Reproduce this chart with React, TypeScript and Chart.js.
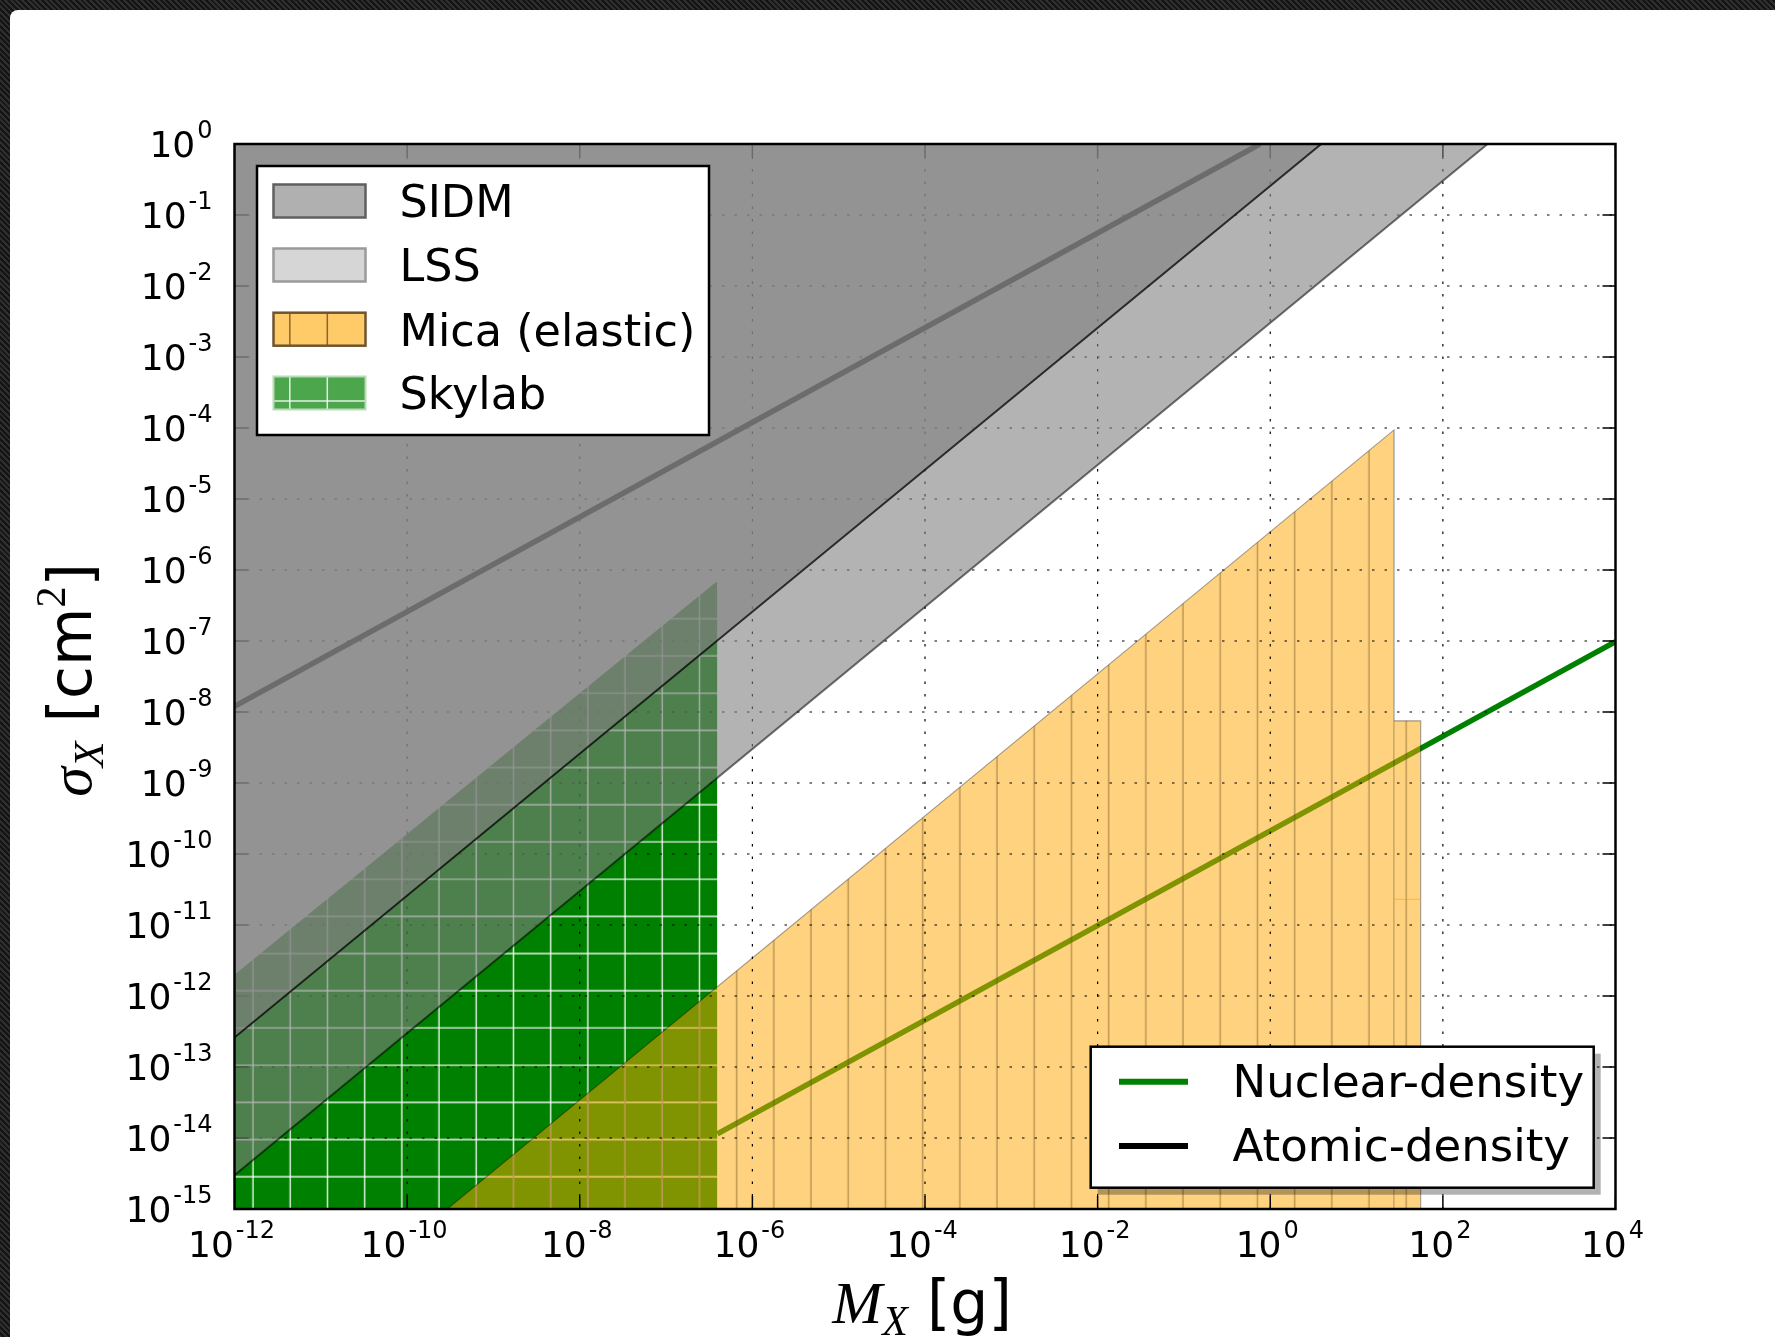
import React, { useEffect, useRef } from 'react';
import { Chart, registerables } from 'chart.js';

Chart.register(...registerables);

// ---------- data (log-log: M_X [g] vs sigma_X [cm^2]) ----------
const X_MIN = 1e-12;
const X_MAX = 1e4;
const Y_MIN = 1e-15;
const Y_MAX = 1;
const X_TICK_EXPONENTS = [-12, -10, -8, -6, -4, -2, 0, 2, 4];
const Y_TICK_EXPONENTS = [0, -1, -2, -3, -4, -5, -6, -7, -8, -9, -10, -11, -12, -13, -14, -15];

const sidmEdge = [
  { x: 1e-12, y: 2.6e-13 },
  { x: 3.9, y: 1 },
];
const lssEdge = [
  { x: 1e-12, y: 3.0e-15 },
  { x: 330, y: 1 },
];
const skylabEdge = [
  { x: 1e-12, y: 2.0e-12 },
  { x: 3.93e-7, y: 7.0e-7 },
];
const micaElastic = [
  { x: 2.92e-10, y: 1e-15 },
  { x: 27.2, y: 9.4e-5 },
  { x: 27.2, y: 1e-15 },
];
const micaStep = [
  { x: 27.2, y: 7.5e-9 },
  { x: 55.3, y: 7.5e-9 },
  { x: 55.3, y: 1e-15 },
];
const micaInner = [
  { x: 27.2, y: 2.3e-11 },
  { x: 55.3, y: 2.3e-11 },
];
const atomicDensity = [
  { x: 1e-12, y: 1.2e-8 },
  { x: 0.76, y: 1 },
];
const nuclearDensity = [
  { x: 3.93e-7, y: 1.14e-14 },
  { x: 1e4, y: 9.8e-8 },
];

const LEGEND_REGIONS = ['SIDM', 'LSS', 'Mica (elastic)', 'Skylab'];
const LEGEND_LINES = ['Nuclear-density', 'Atomic-density'];

// ---------- helpers ----------
const HATCH = 37.2;

function makeSkylabPattern(ctx: CanvasRenderingContext2D): CanvasPattern | string {
  const c = document.createElement('canvas');
  const T = Math.round(HATCH * 10);
  c.width = T;
  c.height = T;
  const g = c.getContext('2d')!;
  g.fillStyle = '#008000';
  g.fillRect(0, 0, T, T);
  g.strokeStyle = 'rgba(255,255,255,0.92)';
  g.lineWidth = 1.4;
  for (let k = -1; k <= 11; k++) {
    const p = k * HATCH;
    g.beginPath();
    g.moveTo(p, 0);
    g.lineTo(p, T);
    g.stroke();
    g.beginPath();
    g.moveTo(0, p);
    g.lineTo(T, p);
    g.stroke();
  }
  const pat = ctx.createPattern(c, 'repeat');
  if (!pat) return '#008000';
  pat.setTransform(new DOMMatrix().translate(29.8, 23.5));
  return pat;
}

function makeMicaPattern(ctx: CanvasRenderingContext2D): CanvasPattern | string {
  const c = document.createElement('canvas');
  const T = Math.round(HATCH * 10);
  c.width = T;
  c.height = 8;
  const g = c.getContext('2d')!;
  g.fillStyle = 'rgba(255,165,0,0.5)';
  g.fillRect(0, 0, T, 8);
  g.strokeStyle = 'rgba(110,80,30,0.45)';
  g.lineWidth = 1.5;
  for (let k = -1; k <= 11; k++) {
    const p = k * HATCH;
    g.beginPath();
    g.moveTo(p, 0);
    g.lineTo(p, 8);
    g.stroke();
  }
  const pat = ctx.createPattern(c, 'repeat');
  if (!pat) return 'rgba(255,165,0,0.5)';
  pat.setTransform(new DOMMatrix().translate(29.8, 0));
  return pat;
}

const SANS = '"DejaVu Sans", "Noto Sans", sans-serif';
const SERIF = '"Liberation Serif", "DejaVu Serif", serif';
const EXP_PX = 24;

function drawPower(ctx: CanvasRenderingContext2D, exp: number, x: number, baseline: number, align: 'right' | 'center') {
  const es = exp < 0 ? '-' + String(-exp) : String(exp);
  ctx.font = `36px ${SANS}`;
  const wb = ctx.measureText('10').width;
  ctx.font = `${EXP_PX}px ${SANS}`;
  const we = ctx.measureText(es).width;
  const gap = 2;
  const total = wb + gap + we;
  const sx = align === 'right' ? x - total : x - total / 2 - 3;
  ctx.textAlign = 'left';
  ctx.textBaseline = 'alphabetic';
  ctx.fillStyle = '#000';
  ctx.font = `36px ${SANS}`;
  ctx.fillText('10', sx, baseline);
  ctx.font = `${EXP_PX}px ${SANS}`;
  ctx.fillText(es, sx + wb + gap, baseline - 19);
}

type Part = { t: string; f: string; dy: number };
function drawParts(ctx: CanvasRenderingContext2D, parts: Part[], cx: number, baseline: number) {
  let total = 0;
  for (const p of parts) {
    ctx.font = p.f;
    total += ctx.measureText(p.t).width;
  }
  let x = cx - total / 2;
  ctx.textAlign = 'left';
  ctx.textBaseline = 'alphabetic';
  ctx.fillStyle = '#000';
  for (const p of parts) {
    ctx.font = p.f;
    ctx.fillText(p.t, x, baseline + p.dy);
    x += ctx.measureText(p.t).width;
  }
}

function drawGridAndTicks(chart: any) {
  const ctx: CanvasRenderingContext2D = chart.ctx;
  const { left, right, top, bottom } = chart.chartArea;
  const xs = chart.scales.x;
  const ys = chart.scales.y;
  ctx.save();
  ctx.beginPath();
  ctx.rect(left, top, right - left, bottom - top);
  ctx.clip();
  ctx.strokeStyle = '#000';
  ctx.lineWidth = 1.2;
  ctx.setLineDash([2.5, 10]);
  for (const e of X_TICK_EXPONENTS) {
    const px = xs.getPixelForValue(Math.pow(10, e));
    ctx.beginPath();
    ctx.moveTo(px, bottom);
    ctx.lineTo(px, top);
    ctx.stroke();
  }
  for (const e of Y_TICK_EXPONENTS) {
    const py = ys.getPixelForValue(Math.pow(10, e));
    ctx.beginPath();
    ctx.moveTo(left, py);
    ctx.lineTo(right, py);
    ctx.stroke();
  }
  ctx.setLineDash([]);
  ctx.lineWidth = 1.5;
  const L = 13;
  for (const e of X_TICK_EXPONENTS) {
    const px = xs.getPixelForValue(Math.pow(10, e));
    ctx.beginPath();
    ctx.moveTo(px, bottom);
    ctx.lineTo(px, bottom - L);
    ctx.moveTo(px, top);
    ctx.lineTo(px, top + L);
    ctx.stroke();
  }
  for (const e of Y_TICK_EXPONENTS) {
    const py = ys.getPixelForValue(Math.pow(10, e));
    ctx.beginPath();
    ctx.moveTo(left, py);
    ctx.lineTo(left + L, py);
    ctx.moveTo(right, py);
    ctx.lineTo(right - L, py);
    ctx.stroke();
  }
  ctx.restore();
}

function drawOverlay(chart: any) {
  const ctx: CanvasRenderingContext2D = chart.ctx;
  const { left, right, top, bottom } = chart.chartArea;
  const xs = chart.scales.x;
  const ys = chart.scales.y;
  ctx.save();

  // frame
  ctx.strokeStyle = '#000';
  ctx.lineWidth = 2.5;
  ctx.strokeRect(left, top, right - left, bottom - top);

  // tick labels
  for (const e of Y_TICK_EXPONENTS) {
    const py = ys.getPixelForValue(Math.pow(10, e));
    drawPower(ctx, e, left - 22, py + 13, 'right');
  }
  for (const e of X_TICK_EXPONENTS) {
    const px = xs.getPixelForValue(Math.pow(10, e));
    drawPower(ctx, e, px, bottom + 47.7, 'center');
  }

  // axis titles
  drawParts(
    ctx,
    [
      { t: 'M', f: `italic 60px ${SERIF}`, dy: 0 },
      { t: 'X', f: `italic 42px ${SERIF}`, dy: 12 },
      { t: ' [g]', f: `60px ${SANS}`, dy: 0 },
    ],
    (left + right) / 2 - 3,
    1323
  );
  ctx.save();
  ctx.translate(91, 680);
  ctx.rotate(-Math.PI / 2);
  drawParts(
    ctx,
    [
      { t: 'σ', f: `italic 60px ${SERIF}`, dy: 0 },
      { t: 'X', f: `italic 42px ${SERIF}`, dy: 12 },
      { t: ' [cm', f: `60px ${SANS}`, dy: 0 },
      { t: '2', f: `42px ${SERIF}`, dy: -26 },
      { t: ']', f: `60px ${SANS}`, dy: 0 },
    ],
    0,
    0
  );
  ctx.restore();

  // upper-left legend (regions)
  ctx.fillStyle = '#fff';
  ctx.fillRect(257, 166, 452, 269);
  ctx.strokeStyle = '#000';
  ctx.lineWidth = 2.5;
  ctx.strokeRect(257, 166, 452, 269);
  const tops = [184.5, 248.5, 312.7, 376.5];
  const baselines = [216.5, 281, 345.5, 408.5];
  const px0 = 273.5;
  const pw = 92;
  const ph = 33;
  const hatchX = [289.8, 327.3];
  // SIDM
  ctx.fillStyle = '#b0b0b0';
  ctx.fillRect(px0, tops[0], pw, ph);
  ctx.strokeStyle = '#5f5f5f';
  ctx.lineWidth = 2.5;
  ctx.strokeRect(px0, tops[0], pw, ph);
  // LSS
  ctx.fillStyle = '#d6d6d6';
  ctx.fillRect(px0, tops[1], pw, ph);
  ctx.strokeStyle = '#9a9a9a';
  ctx.strokeRect(px0, tops[1], pw, ph);
  // Mica
  ctx.fillStyle = '#ffca68';
  ctx.fillRect(px0, tops[2], pw, ph);
  ctx.strokeStyle = 'rgba(90,60,20,0.7)';
  ctx.lineWidth = 1.5;
  for (const hx of hatchX) {
    ctx.beginPath();
    ctx.moveTo(hx, tops[2]);
    ctx.lineTo(hx, tops[2] + ph);
    ctx.stroke();
  }
  ctx.strokeStyle = '#6e5530';
  ctx.lineWidth = 2.5;
  ctx.strokeRect(px0, tops[2], pw, ph);
  // Skylab
  ctx.fillStyle = '#4ca64c';
  ctx.fillRect(px0, tops[3], pw, ph);
  ctx.strokeStyle = 'rgba(255,255,255,0.85)';
  ctx.lineWidth = 1.5;
  for (const hx of hatchX) {
    ctx.beginPath();
    ctx.moveTo(hx, tops[3]);
    ctx.lineTo(hx, tops[3] + ph);
    ctx.stroke();
  }
  ctx.beginPath();
  ctx.moveTo(px0, 401);
  ctx.lineTo(px0 + pw, 401);
  ctx.stroke();
  ctx.strokeStyle = '#b8dcb8';
  ctx.lineWidth = 2;
  ctx.strokeRect(px0, tops[3], pw, ph);
  ctx.fillStyle = '#000';
  ctx.font = `44.5px ${SANS}`;
  ctx.textAlign = 'left';
  ctx.textBaseline = 'alphabetic';
  LEGEND_REGIONS.forEach((name, i) => ctx.fillText(name, 399.5, baselines[i]));

  // lower-right legend (lines)
  ctx.fillStyle = 'rgba(0,0,0,0.3)';
  ctx.fillRect(1097.7, 1053.7, 503, 141);
  ctx.fillStyle = '#fff';
  ctx.fillRect(1090.7, 1046.7, 503, 141);
  ctx.strokeStyle = '#000';
  ctx.lineWidth = 2.5;
  ctx.strokeRect(1090.7, 1046.7, 503, 141);
  const lineColors = ['#008000', '#000000'];
  const lineY = [1081.7, 1146];
  const lineBase = [1097, 1161];
  LEGEND_LINES.forEach((name, i) => {
    ctx.strokeStyle = lineColors[i];
    ctx.lineWidth = 6;
    ctx.beginPath();
    ctx.moveTo(1119, lineY[i]);
    ctx.lineTo(1188, lineY[i]);
    ctx.stroke();
    ctx.fillStyle = '#000';
    ctx.font = `45px ${SANS}`;
    ctx.fillText(name, 1232.5, lineBase[i]);
  });

  ctx.restore();
}

const overlayPlugin = {
  id: 'matplotlibOverlay',
  afterDatasetDraw(chart: any, args: any) {
    const ds = chart.data.datasets[args.index];
    if (ds && ds.label === 'Mica inner') drawGridAndTicks(chart);
  },
  afterDraw(chart: any) {
    drawOverlay(chart);
  },
};

export default function App() {
  const ref = useRef<HTMLCanvasElement>(null);

  useEffect(() => {
    const canvas = ref.current;
    if (!canvas) return;
    const ctx = canvas.getContext('2d')!;
    const skylabPattern = makeSkylabPattern(ctx);
    const micaPattern = makeMicaPattern(ctx);

    const chart = new Chart(canvas, {
      type: 'line',
      data: {
        datasets: [
          {
            label: 'Skylab',
            data: skylabEdge,
            fill: 'start',
            backgroundColor: skylabPattern as any,
            borderColor: 'rgba(0,0,0,0)',
            borderWidth: 1,
            order: 7,
          },
          {
            label: 'Nuclear-density',
            data: nuclearDensity,
            fill: false,
            borderColor: '#008000',
            borderWidth: 5.5,
            order: 6,
          },
          {
            label: 'Mica (elastic)',
            data: micaElastic,
            fill: 'start',
            backgroundColor: micaPattern as any,
            borderColor: 'rgba(0,0,0,0.35)',
            borderWidth: 1.2,
            order: 5,
          },
          {
            label: 'Mica step',
            data: micaStep,
            fill: 'start',
            backgroundColor: micaPattern as any,
            borderColor: 'rgba(0,0,0,0.35)',
            borderWidth: 1.2,
            order: 4,
          },
          {
            label: 'Mica inner',
            data: micaInner,
            fill: false,
            borderColor: 'rgba(255,165,0,0.6)',
            borderWidth: 1,
            order: 3.5,
          },
          {
            label: 'Atomic-density',
            data: atomicDensity,
            fill: false,
            borderColor: '#000000',
            borderWidth: 5.5,
            order: 3,
          },
          {
            label: 'LSS',
            data: lssEdge,
            fill: 'end',
            backgroundColor: 'rgba(128,128,128,0.6)',
            borderColor: 'rgba(0,0,0,0.55)',
            borderWidth: 2,
            order: 2,
          },
          {
            label: 'SIDM',
            data: sidmEdge,
            fill: 'end',
            backgroundColor: 'rgba(128,128,128,0.62)',
            borderColor: 'rgba(0,0,0,0.75)',
            borderWidth: 2,
            order: 1,
          },
        ],
      },
      options: {
        responsive: false,
        animation: false,
        events: [],
        layout: { padding: { left: 234.5, right: 159.5, top: 144, bottom: 128 } },
        elements: { point: { radius: 0 }, line: { tension: 0 } },
        scales: {
          x: { type: 'logarithmic', min: X_MIN, max: X_MAX, display: false },
          y: { type: 'logarithmic', min: Y_MIN, max: Y_MAX, display: false },
        },
        plugins: {
          legend: { display: false },
          tooltip: { enabled: false },
        },
      },
      plugins: [overlayPlugin],
    });

    return () => chart.destroy();
  }, []);

  return (
    <div
      style={{
        position: 'fixed',
        left: 0,
        top: 0,
        width: 1775,
        height: 1337,
        overflow: 'hidden',
        backgroundColor: '#1c1c1c',
        backgroundImage:
          'repeating-linear-gradient(45deg, #2e2e2e 0px, #2e2e2e 2px, #141414 2px, #141414 4px), repeating-linear-gradient(-45deg, rgba(60,60,60,0.5) 0px, rgba(60,60,60,0.5) 2px, transparent 2px, transparent 4px)',
      }}
    >
      <div
        style={{
          position: 'absolute',
          left: 10,
          top: 10,
          right: 0,
          bottom: 0,
          background: '#ffffff',
          borderTopLeftRadius: 8,
        }}
      />
      <canvas
        ref={ref}
        width={1775}
        height={1337}
        style={{ position: 'absolute', left: 0, top: 0, width: 1775, height: 1337 }}
      />
    </div>
  );
}
